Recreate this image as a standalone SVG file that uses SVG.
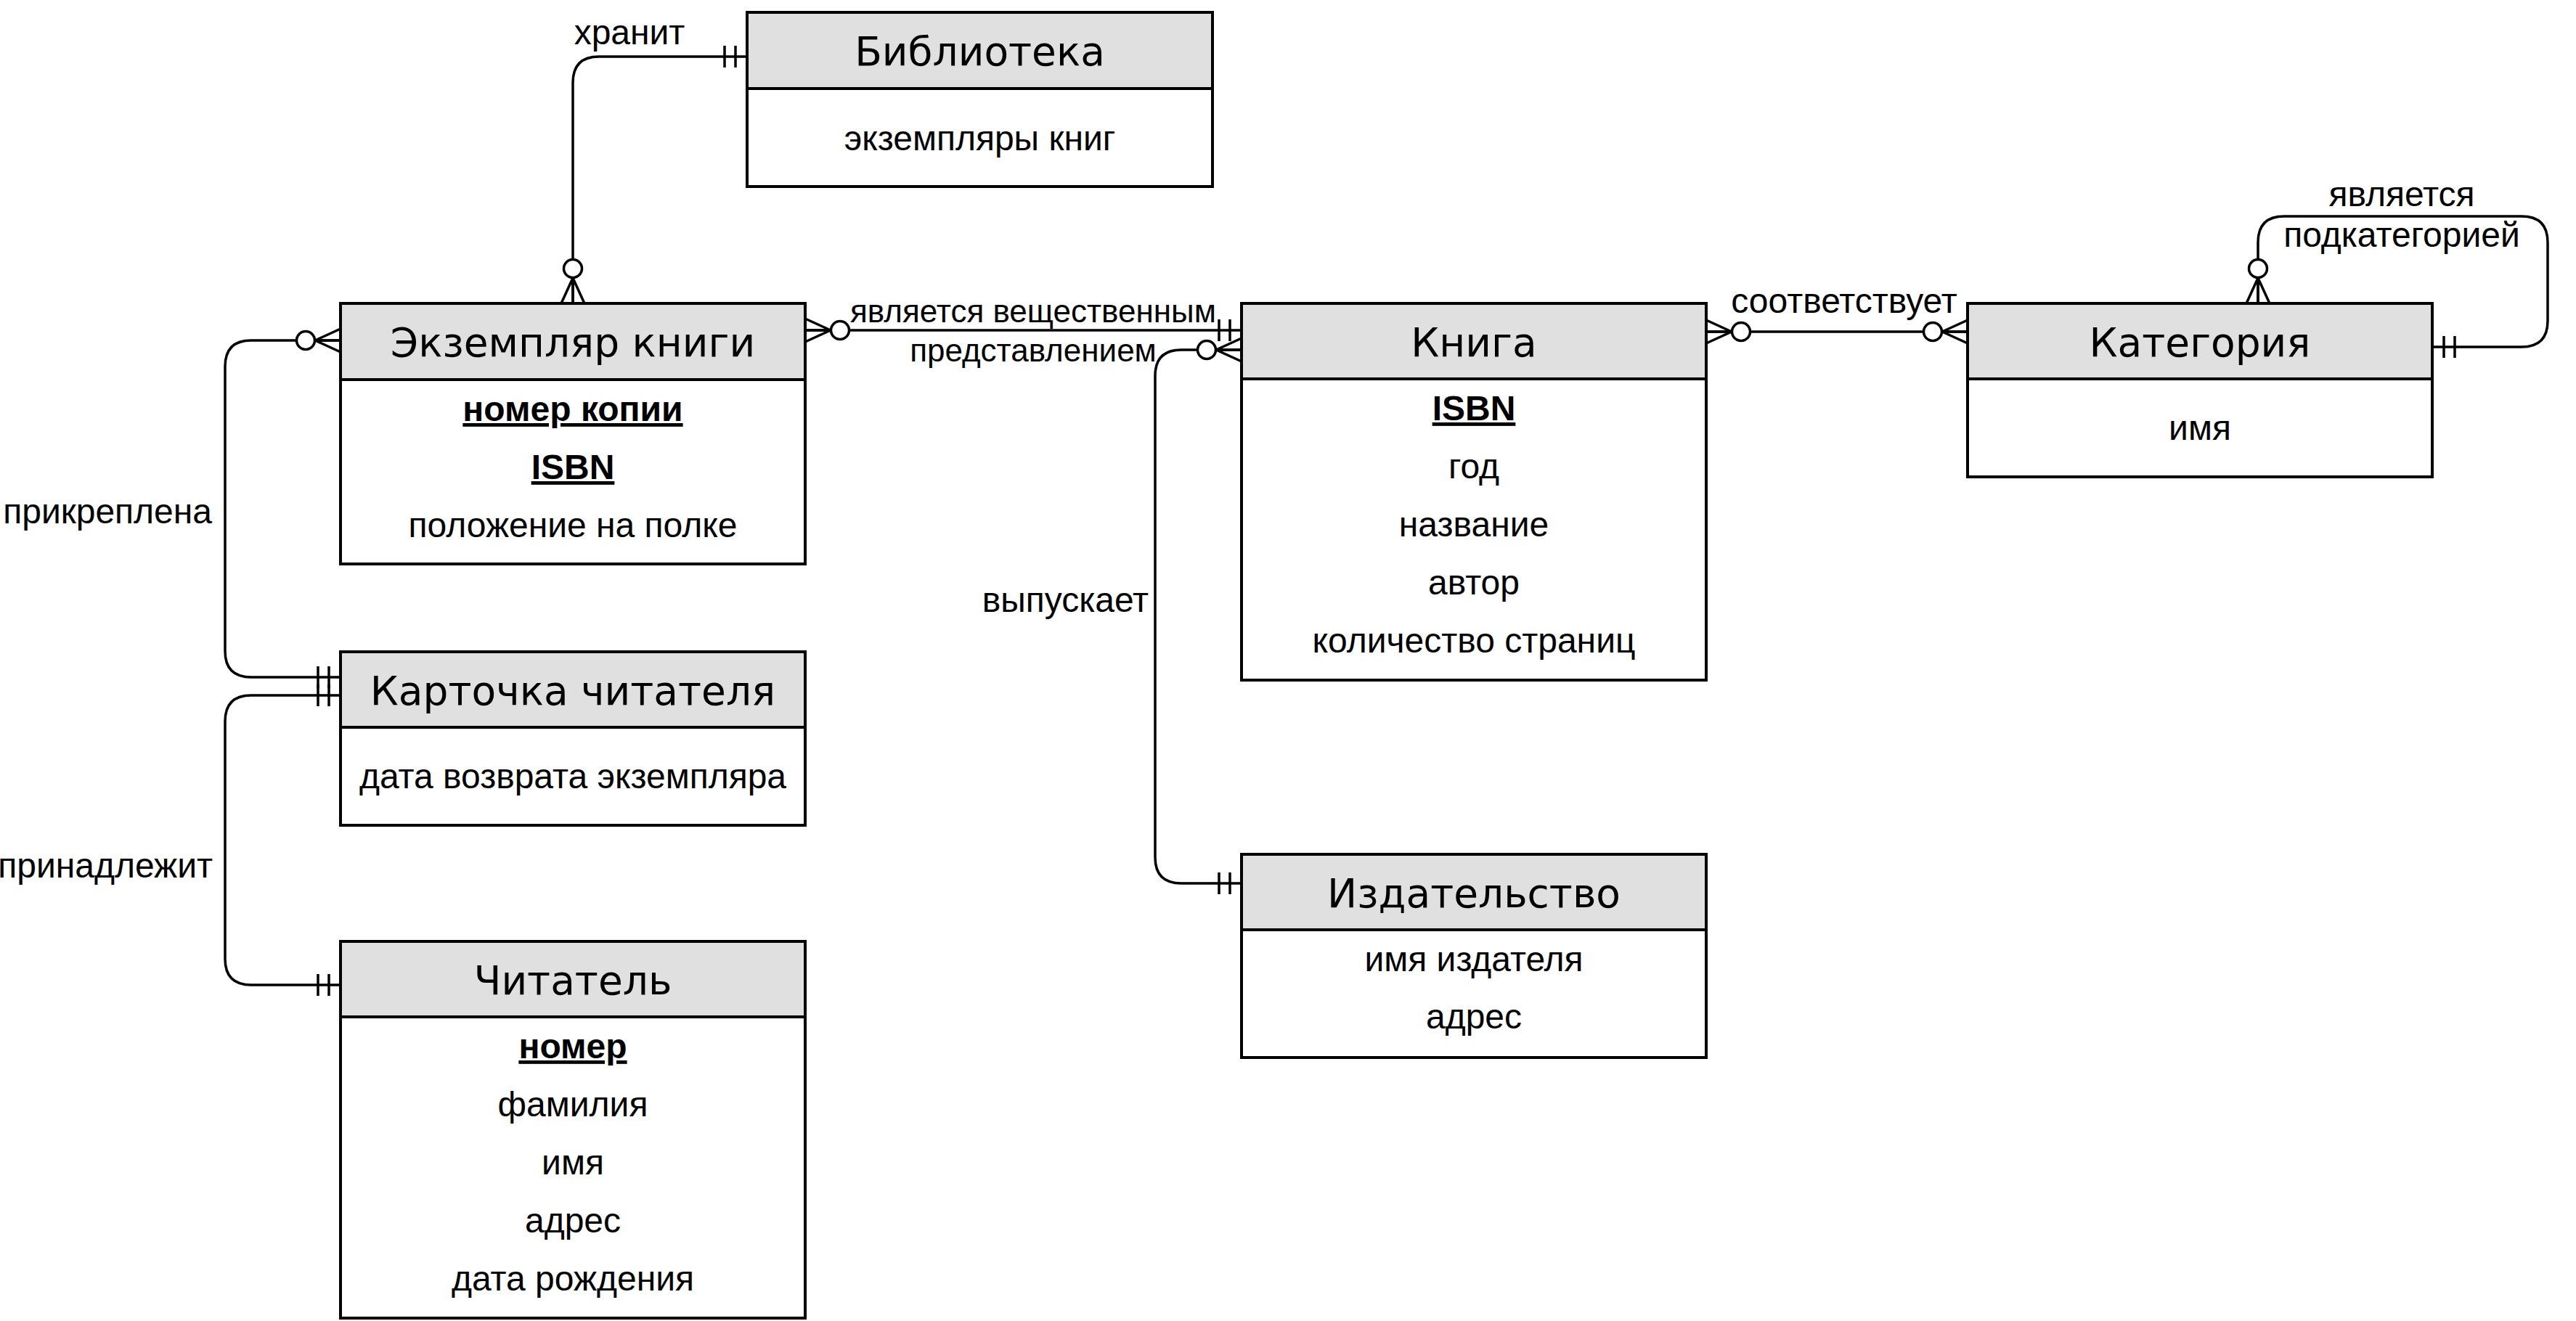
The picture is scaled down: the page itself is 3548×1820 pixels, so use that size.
<svg xmlns="http://www.w3.org/2000/svg" xmlns:xlink="http://www.w3.org/1999/xlink" width="3548" height="1820" viewBox="0 0 3548 1820">
<style>
.box{fill:#ffffff;stroke:#000;stroke-width:4}
.hdr{fill:#e0e0e0;stroke:#000;stroke-width:4}
.title{font-family:"DejaVu Sans","Liberation Sans",sans-serif;font-size:55px;text-anchor:middle;fill:#000}
.attr{font-family:"Liberation Sans",Arial,sans-serif;font-size:48px;text-anchor:middle;fill:#000}
.key{font-weight:bold;text-decoration:underline}
.lbl{font-family:"Liberation Sans",Arial,sans-serif;font-size:48px;fill:#000}
.lbl.sm{font-size:44px}
.edge{fill:none;stroke:#000;stroke-width:3.5}
.mk{fill:none;stroke:#000;stroke-width:3.5}
.circ{fill:#fff;stroke:#000;stroke-width:3.5}
</style>
<defs>
<g id="zm">
<path class="mk" d="M0,-16 L35,0 M0,16 L35,0 M0,0 L35,0"/>
<circle class="circ" cx="48" cy="0" r="12.5"/>
</g>
<g id="one">
<path class="mk" d="M16,-15 V15 M31,-15 V15"/>
</g>
</defs>
<rect width="3548" height="1820" fill="#fff"/>

<g id="connectors">
<!-- хранит -->
<path class="edge" d="M1029,78 L825,78 Q789,78 789,114 L789,418"/>
<use xlink:href="#one" transform="translate(1029,78) rotate(180)"/>
<use xlink:href="#zm" transform="translate(789,418) rotate(-90)"/>
<text class="lbl" x="867" y="61" text-anchor="middle">хранит</text>
<!-- является вещественным представлением -->
<path class="edge" d="M1109,455 L1710,455"/>
<use xlink:href="#zm" transform="translate(1109,455)"/>
<use xlink:href="#one" transform="translate(1710,455) rotate(180)"/>
<text class="lbl sm" x="1423" y="444" text-anchor="middle">является вещественным</text>
<text class="lbl sm" x="1423" y="498" text-anchor="middle">представлением</text>
<!-- выпускает -->
<path class="edge" d="M1710,482 L1627,482 Q1591,482 1591,518 L1591,1181 Q1591,1217 1627,1217 L1710,1217"/>
<use xlink:href="#zm" transform="translate(1710,482) rotate(180)"/>
<use xlink:href="#one" transform="translate(1710,1217) rotate(180)"/>
<text class="lbl" x="1582" y="843" text-anchor="end">выпускает</text>
<!-- соответствует -->
<path class="edge" d="M2350,457 L2710,457"/>
<use xlink:href="#zm" transform="translate(2350,457)"/>
<use xlink:href="#zm" transform="translate(2710,457) rotate(180)"/>
<text class="lbl" x="2540" y="431" text-anchor="middle">соответствует</text>
<!-- является подкатегорией -->
<path class="edge" d="M3110,418 L3110,334 Q3110,298 3146,298 L3473,298 Q3509,298 3509,334 L3509,442 Q3509,478 3473,478 L3350,478"/>
<use xlink:href="#zm" transform="translate(3110,418) rotate(-90)"/>
<use xlink:href="#one" transform="translate(3350,478)"/>
<text class="lbl" x="3308" y="284" text-anchor="middle">является</text>
<text class="lbl" x="3308" y="340" text-anchor="middle">подкатегорией</text>
<!-- прикреплена -->
<path class="edge" d="M469,469 L346,469 Q310,469 310,505 L310,897 Q310,933 346,933 L469,933"/>
<use xlink:href="#zm" transform="translate(469,469) rotate(180)"/>
<use xlink:href="#one" transform="translate(469,933) rotate(180)"/>
<text class="lbl" x="292" y="721" text-anchor="end">прикреплена</text>
<!-- принадлежит -->
<path class="edge" d="M469,958 L346,958 Q310,958 310,994 L310,1321 Q310,1357 346,1357 L469,1357"/>
<use xlink:href="#one" transform="translate(469,958) rotate(180)"/>
<use xlink:href="#one" transform="translate(469,1357) rotate(180)"/>
<text class="lbl" x="293" y="1209" text-anchor="end">принадлежит</text>
</g>

<g id="biblioteka">
<rect class="box" x="1029" y="17" width="641" height="240"/>
<rect class="hdr" x="1029" y="17" width="641" height="105"/>
<text class="title" x="1349.5" y="90">Библиотека</text>
<text class="attr" x="1349.5" y="207">экземпляры книг</text>
</g>

<g id="ekzemplyar">
<rect class="box" x="469" y="418" width="640" height="359"/>
<rect class="hdr" x="469" y="418" width="640" height="105"/>
<text class="title" x="789" y="491">Экземпляр книги</text>
<text class="attr key" x="789" y="580">номер копии</text>
<text class="attr key" x="789" y="660">ISBN</text>
<text class="attr" x="789" y="740">положение на полке</text>
</g>

<g id="kartochka">
<rect class="box" x="469" y="898" width="640" height="239"/>
<rect class="hdr" x="469" y="898" width="640" height="104"/>
<text class="title" x="789" y="971">Карточка читателя</text>
<text class="attr" x="789" y="1086">дата возврата экземпляра</text>
</g>

<g id="chitatel">
<rect class="box" x="469" y="1297" width="640" height="519"/>
<rect class="hdr" x="469" y="1297" width="640" height="104"/>
<text class="title" x="789" y="1370">Читатель</text>
<text class="attr key" x="789" y="1458">номер</text>
<text class="attr" x="789" y="1538">фамилия</text>
<text class="attr" x="789" y="1618">имя</text>
<text class="attr" x="789" y="1698">адрес</text>
<text class="attr" x="789" y="1778">дата рождения</text>
</g>

<g id="kniga">
<rect class="box" x="1710" y="418" width="640" height="519"/>
<rect class="hdr" x="1710" y="418" width="640" height="104"/>
<text class="title" x="2030" y="491">Книга</text>
<text class="attr key" x="2030" y="579">ISBN</text>
<text class="attr" x="2030" y="659">год</text>
<text class="attr" x="2030" y="739">название</text>
<text class="attr" x="2030" y="819">автор</text>
<text class="attr" x="2030" y="899">количество страниц</text>
</g>

<g id="izdatelstvo">
<rect class="box" x="1710" y="1177" width="640" height="280"/>
<rect class="hdr" x="1710" y="1177" width="640" height="104"/>
<text class="title" x="2030" y="1250">Издательство</text>
<text class="attr" x="2030" y="1338">имя издателя</text>
<text class="attr" x="2030" y="1417">адрес</text>
</g>

<g id="kategoriya">
<rect class="box" x="2710" y="418" width="640" height="239"/>
<rect class="hdr" x="2710" y="418" width="640" height="104"/>
<text class="title" x="3030" y="491">Категория</text>
<text class="attr" x="3030" y="606">имя</text>
</g>
</svg>
